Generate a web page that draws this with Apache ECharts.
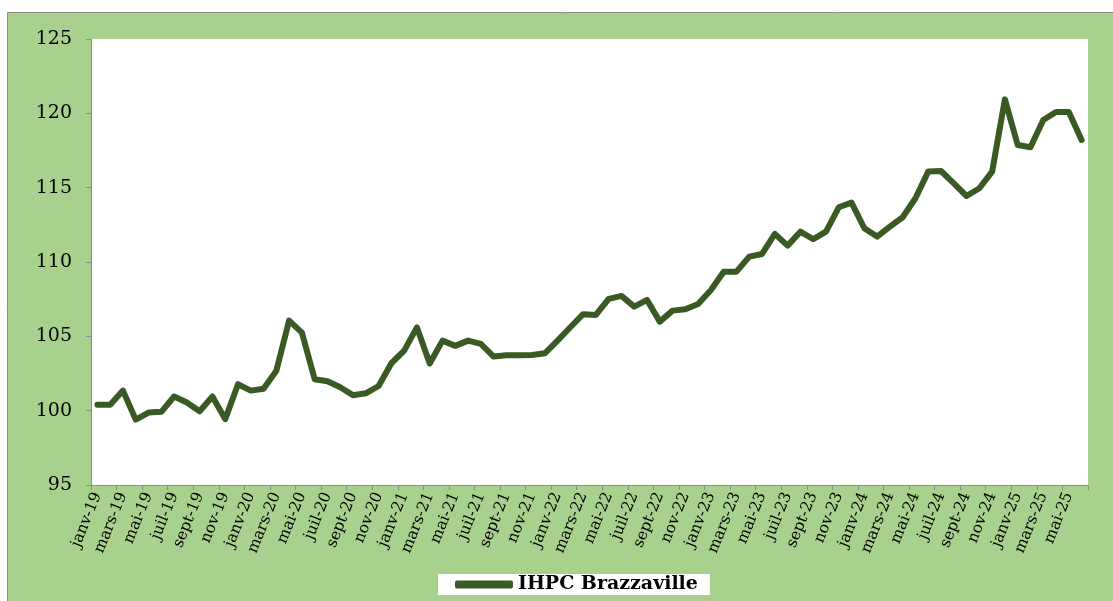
<!DOCTYPE html>
<html>
<head>
<meta charset="utf-8">
<script src="https://cdn.jsdelivr.net/npm/echarts@6/dist/echarts.min.js"></script>
<style>html,body{margin:0;padding:0;background:#fff;}#c{width:1113px;height:601px;}</style>
</head>
<body>
<div id="c"></div>
<script>
const months = ['janv','févr','mars','avr','mai','juin','juil','août','sept','oct','nov','déc'];
const categories = [];
for (let y = 19; y <= 25; y++) {
  for (let m = 0; m < 12; m++) {
    if (y === 25 && m > 5) break;
    categories.push(months[m] + '-' + y);
  }
}
const seriesName = 'IHPC Brazzaville';
const ihpc = [
  100.4, 100.4, 101.35, 99.4, 99.87, 99.92, 100.95, 100.55, 99.96, 100.95, 99.43, 101.78,
  101.35, 101.48, 102.69, 106.06, 105.25, 102.11, 101.98, 101.58, 101.04, 101.17, 101.66, 103.19,
  104.04, 105.6, 103.17, 104.71, 104.36, 104.71, 104.49, 103.64, 103.73, 103.73, 103.75, 103.86,
  104.71, 105.61, 106.49, 106.44, 107.52, 107.72, 107.0, 107.45, 105.99, 106.73, 106.82, 107.18,
  108.12, 109.35, 109.35, 110.36, 110.54, 111.89, 111.1, 112.04, 111.53, 112.04, 113.68, 113.99,
  112.27, 111.71, 112.38, 113.01, 114.29, 116.08, 116.12, 115.29, 114.44, 114.96, 116.08, 120.94,
  117.87, 117.72, 119.55, 120.09, 120.09, 118.21
];
const yMin = 95, yMax = 125, yStep = 5;

const chart = echarts.init(document.getElementById('c'));
chart.setOption({
  animation: false,
  graphic: [{
    type: 'rect', z: -10, silent: true,
    shape: { x: 7.5, y: 12.5, width: 1120, height: 600 },
    style: { fill: '#A9D18E', stroke: '#8c8c8c', lineWidth: 1 }
  }],
  grid: {
    left: 91, top: 39, width: 997, height: 446,
    show: true, backgroundColor: '#ffffff', borderWidth: 0
  },
  legend: {
    left: 438, top: 574,
    backgroundColor: '#ffffff',
    padding: [1, 12, 1, 17],
    icon: 'roundRect',
    itemWidth: 58, itemHeight: 8,
    textStyle: { fontFamily: 'DejaVu Serif', fontWeight: 'bold', fontSize: 19, color: '#000' },
    data: [seriesName]
  },
  xAxis: {
    type: 'category',
    data: categories,
    boundaryGap: true,
    axisLine: { lineStyle: { color: '#8c8c8c', width: 1 } },
    axisTick: { show: true, interval: 1, length: 5, alignWithLabel: false, lineStyle: { color: '#8c8c8c' } },
    axisLabel: {
      interval: 1, rotate: 68, margin: 8,
      fontFamily: 'DejaVu Serif', fontSize: 15.5, color: '#000'
    },
    splitLine: { show: false }
  },
  yAxis: {
    type: 'value',
    min: yMin, max: yMax, interval: yStep,
    axisLine: { show: true, lineStyle: { color: '#8c8c8c', width: 1 } },
    axisTick: { show: true, length: 5, lineStyle: { color: '#8c8c8c' } },
    axisLabel: { fontFamily: 'DejaVu Serif', fontSize: 19, color: '#000', margin: 19 },
    splitLine: { show: false }
  },
  series: [{
    name: seriesName,
    type: 'line',
    data: ihpc,
    symbol: 'none',
    color: '#3A5A23',
    lineStyle: { width: 6, color: '#3A5A23', cap: 'round', join: 'round' }
  }]
});
</script>
</body>
</html>
